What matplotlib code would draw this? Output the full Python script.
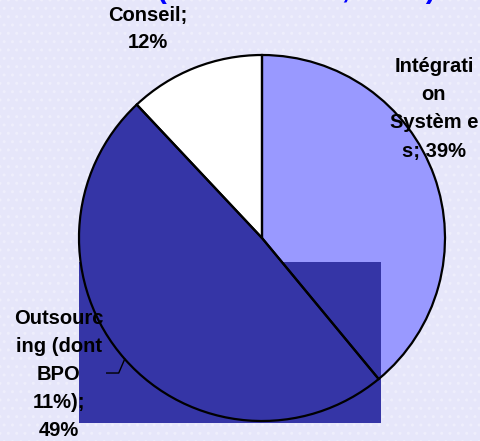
import numpy as np
import matplotlib.pyplot as plt
from matplotlib.patches import Rectangle

# Répartition du marché des services informatiques
labels = ["Intégrati\non\nSystèm e\ns; 39%", "Outsourc\ning (dont\nBPO\n11%);\n49%", "Conseil;\n12%"]
shares = [39, 49, 12]
colors = ["#9999FF", "#3535A6", "#FFFFFF"]
label_pos = [(434, 332), (59, 67), (148, 412)]

W, H = 481, 441
center = (262, 203)
radius = 183

fig = plt.figure(figsize=(W / 100, H / 100), dpi=100)
fig.patch.set_facecolor("#E6E6FA")
ax = fig.add_axes([0, 0, 1, 1])
ax.set_facecolor("#E6E6FA")

# dotted background texture
ax.add_patch(Rectangle((0, 0), W, H, facecolor="#E6E6FA", edgecolor="#EEEEFC",
                       hatch="..", linewidth=0, zorder=0))

# fills first, then the block, then the outlines on top
wedges, _ = ax.pie(shares, colors=colors, startangle=90, counterclock=False,
                   center=center, radius=radius,
                   wedgeprops=dict(linewidth=0, zorder=1))
ax.add_patch(Rectangle((79, 18), 302, 161, facecolor="#3535A6", edgecolor="none", zorder=2))
ax.pie(shares, startangle=90, counterclock=False, center=center, radius=radius,
       wedgeprops=dict(fill=False, edgecolor="black", linewidth=1.6, zorder=3))

for text, (x, y) in zip(labels, label_pos):
    ax.text(x, y, text, ha="center", va="center", fontsize=14.5, fontweight="bold",
            family="Liberation Sans", linespacing=1.6, color="black", zorder=4)

# leader line for the outsourcing label
w = wedges[1]
mid = np.deg2rad((w.theta1 + w.theta2) / 2)
px = center[0] + radius * np.cos(mid)
py = center[1] + radius * np.sin(mid)
ax.plot([px, px - 6, px - 18], [py, py - 14, py - 14], color="black", lw=1, zorder=4)

# title, mostly above the visible area
ax.text(296, H + 2, "(Marché 2005, en %)", ha="center", va="baseline",
        fontsize=21, fontweight="bold", family="Liberation Sans", color="#0000FF", zorder=4)

ax.set_xlim(0, W)
ax.set_ylim(0, H)
ax.set_aspect("auto")
ax.axis("off")

fig.savefig("out.png", dpi=100, facecolor=fig.get_facecolor())
